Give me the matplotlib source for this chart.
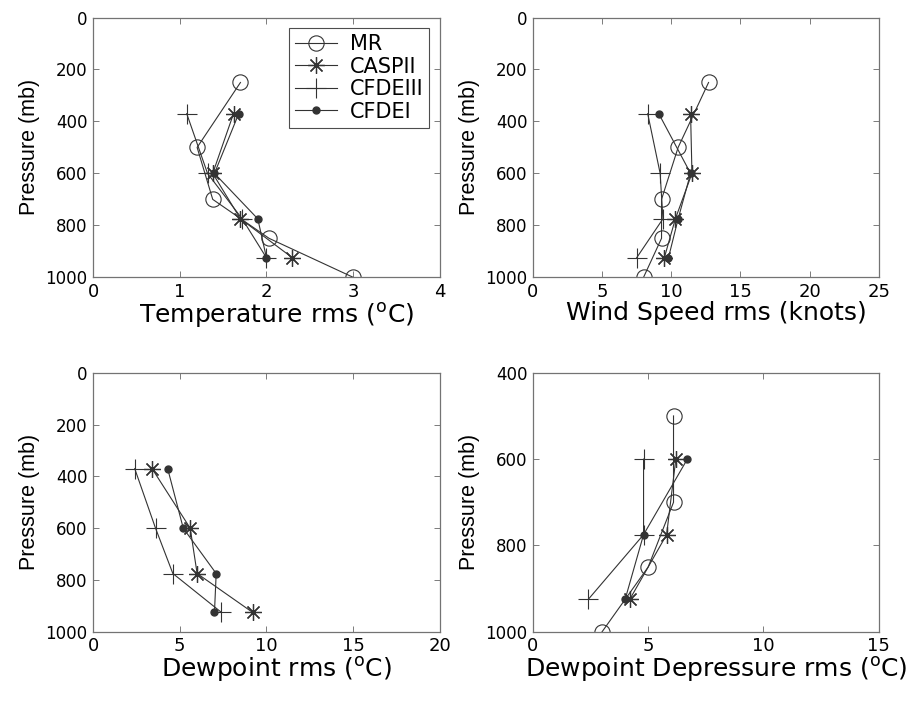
import numpy as np
import matplotlib.pyplot as plt

plt.rcParams['font.family'] = ['DejaVu Sans']
plt.rcParams['mathtext.fontset'] = 'dejavusans'

# pressure levels (mb)
p_mr = [250, 500, 700, 850, 1000]
p_obs = [370, 600, 775, 925]
p_mr_dd = [500, 700, 850, 1000]
p_obs_dd = [600, 775, 925]

# temperature rms
t_mr = [1.7, 1.2, 1.38, 2.03, 3.0]
t_caspii = [1.62, 1.38, 1.7, 2.3]
t_cfdeiii = [1.08, 1.32, 1.72, 2.0]
t_cfdei = [1.68, 1.4, 1.9, 2.0]

# wind speed rms
w_mr = [12.7, 10.5, 9.3, 9.3, 8.0]
w_caspii = [11.4, 11.5, 10.3, 9.5]
w_cfdeiii = [8.3, 9.2, 9.4, 7.5]
w_cfdei = [9.1, 11.4, 10.5, 9.8]

# dewpoint rms
d_caspii = [3.4, 5.6, 6.0, 9.2]
d_cfdeiii = [2.4, 3.6, 4.6, 7.4]
d_cfdei = [4.3, 5.2, 7.1, 7.0]

# dewpoint depression rms
dd_mr = [6.1, 6.1, 5.0, 3.0]
dd_caspii = [6.2, 5.8, 4.2]
dd_cfdeiii = [4.8, 4.8, 2.4]
dd_cfdei = [6.7, 4.8, 4.0]

styles = {
    'MR': dict(marker='o', ms=11, mfc='none', mew=0.8),
    'CASPII': dict(marker=(8, 2, 0), ms=12, mew=0.9),
    'CFDEIII': dict(marker='+', ms=15, mew=0.8),
    'CFDEI': dict(marker='.', ms=10),
}
lc = '0.2'

fig = plt.figure(figsize=(9.22, 7.02), dpi=100)
ax1 = fig.add_axes([0.101, 0.605, 0.376, 0.370])
ax2 = fig.add_axes([0.578, 0.605, 0.375, 0.370])
ax3 = fig.add_axes([0.101, 0.100, 0.376, 0.369])
ax4 = fig.add_axes([0.578, 0.100, 0.375, 0.369])


def draw(ax, series):
    for name, x, y in series:
        ax.plot(x, y, color=lc, lw=0.8, label=name, **styles[name])


draw(ax1, [('MR', t_mr, p_mr), ('CASPII', t_caspii, p_obs),
           ('CFDEIII', t_cfdeiii, p_obs), ('CFDEI', t_cfdei, p_obs)])
draw(ax2, [('MR', w_mr, p_mr), ('CASPII', w_caspii, p_obs),
           ('CFDEIII', w_cfdeiii, p_obs), ('CFDEI', w_cfdei, p_obs)])
draw(ax3, [('CASPII', d_caspii, p_obs),
           ('CFDEIII', d_cfdeiii, p_obs), ('CFDEI', d_cfdei, p_obs)])
draw(ax4, [('MR', dd_mr, p_mr_dd), ('CASPII', dd_caspii, p_obs_dd),
           ('CFDEIII', dd_cfdeiii, p_obs_dd), ('CFDEI', dd_cfdei, p_obs_dd)])

setup = [
    (ax1, (0, 4), np.arange(0, 5, 1), (0, 1000),
     r'Temperature rms ($^{\rm o}$C)'),
    (ax2, (0, 25), np.arange(0, 30, 5), (0, 1000),
     'Wind Speed rms (knots)'),
    (ax3, (0, 20), np.arange(0, 25, 5), (0, 1000),
     r'Dewpoint rms ($^{\rm o}$C)'),
    (ax4, (0, 15), np.arange(0, 20, 5), (400, 1000),
     r'Dewpoint Depressure rms ($^{\rm o}$C)'),
]
for ax, xl, xt, yl, lab in setup:
    ax.set_xlim(*xl)
    ax.set_xticks(xt)
    ax.set_ylim(yl[1], yl[0])
    ax.set_yticks(np.arange(yl[0], yl[1] + 1, 200))
    ax.set_xlabel(lab, fontsize=18, labelpad=2)
    ax.xaxis.set_label_coords(0.53, -0.09)
    ax.set_ylabel('Pressure (mb)', fontsize=15.5, family='Liberation Sans',
                  labelpad=4)
    ax.tick_params(direction='in', top=True, right=True, labelsize=12,
                   length=4, width=0.6, color='0.4', pad=4)
    ax.tick_params(axis='x', labelsize=13)
    for s in ax.spines.values():
        s.set_color('0.45')
        s.set_linewidth(0.9)

leg = ax1.legend(loc='upper right', fontsize=15, fancybox=False,
                 edgecolor='0.3', framealpha=1, borderaxespad=0.5,
                 handlelength=2.0, labelspacing=0.12, borderpad=0.3,
                 handletextpad=0.6)
leg.get_frame().set_linewidth(0.8)

fig.savefig('out.png', dpi=100)
